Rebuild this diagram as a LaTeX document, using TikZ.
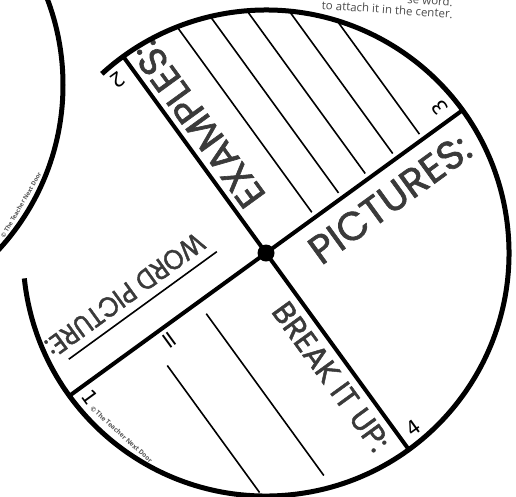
\documentclass[tikz,border=0pt]{standalone}
\usepackage{fontspec}
\setmainfont{Open Sans}
\newfontfamily\headfont{Poppins}[FakeBold=1.6]
\newfontfamily\digitfont{DejaVu Sans}
\usetikzlibrary{calc}
\definecolor{InkGray}{HTML}{3A3A3A}
\definecolor{NoteGray}{HTML}{4A4A4A}
\definecolor{CreditGray}{HTML}{555555}

\begin{document}
\begin{tikzpicture}[
  x=1pt,y=1pt,
  rim/.style={line width=5pt},
  divider/.style={line width=4pt},
  writeline/.style={line width=1.6pt},
  heading/.style={anchor=west,inner sep=0pt,text=InkGray,font=\headfont\fontsize{34}{34}\selectfont},
  number/.style={inner sep=0pt,font=\digitfont\fontsize{20}{20}\selectfont},
  credit/.style={anchor=west,inner sep=0pt,text=CreditGray,font=\bfseries\fontsize{6.5}{6.5}\selectfont},
  note/.style={inner sep=0pt,text=NoteGray,font=\fontsize{11.5}{11.5}\selectfont}
]
\clip (0,-496) rectangle (516,0);
\coordinate (ctr) at (266,-253);

%% Neighbouring wheel
\draw[rim] (-180,-85) circle (243);
\node[credit,rotate=60,anchor=center,font=\bfseries\fontsize{6}{6}\selectfont] (copyleft) at (21,-205) {\textcopyright\ The Teacher Next Door};

%% Instructions above
\node[note,rotate=-4,anchor=east] (note1) at (453,-2) {se word.};
\node[note,rotate=-4,anchor=east] (note2) at (453,-14) {to attach it in the center.};

%% Dividers
\draw[divider] ($(ctr)+(126:243)$) -- ($(ctr)+(-54:243)$);
\draw[divider] ($(ctr)+(216:243)$) -- ($(ctr)+(36:243)$);

%% Quadrant 3 (top)
\begin{scope}[shift={(ctr)},rotate=126,transform shape]
  \node[heading,font=\headfont\fontsize{39}{39}\selectfont] (examples) at (46,-21) {EXAMPLES:};
  \node[number] (num3) at (16,-226) {3};
  \foreach \y/\x in {61/235,94/224,127/207,161/182,194/146}
    \draw[writeline] (6,-\y) -- (\x,-\y);
\end{scope}

%% Quadrant 4 (right)
\begin{scope}[shift={(ctr)},rotate=36,transform shape]
  \node[heading,font=\headfont\fontsize{40}{40}\selectfont] (pictures) at (37,-29) {PICTURES:};
  \node[number] (num4) at (16,-228) {4};
\end{scope}

%% Quadrant 1 (bottom)
\begin{scope}[shift={(ctr)},rotate=-54,transform shape]
  \node[heading,font=\headfont\fontsize{31}{31}\selectfont,xscale=0.98] (breakup) at (50,-20) {BREAK IT UP:};
  \node[number] (num1) at (13,-227) {1};
  \node[credit,rotate=12] (copybottom) at (22,-232) {\textcopyright\ The Teacher Next Door};
  \draw[writeline] (14,-84) -- (214,-84);
  \node[number,font=\digitfont\fontsize{24}{24}\selectfont] (equals) at (14,-132) {=};
  \draw[writeline] (33,-146) -- (190,-146);
\end{scope}

%% Quadrant 2 (left)
\begin{scope}[shift={(ctr)},rotate=216,transform shape]
  \node[heading,font=\headfont\fontsize{28}{28}\selectfont,xscale=0.9] (wordpic) at (44,-49) {WORD PICTURE:};
  \draw[writeline] (39,-30) -- (222,-30);
  \node[number] (num2) at (18,-227) {2};
\end{scope}

%% Wheel rim (open on the left) and centre pin
\draw[rim] (ctr) ++(186:243) arc[start angle=186,end angle=492.5,radius=243];
\fill (ctr) circle (8.5);

\end{tikzpicture}
\end{document}
